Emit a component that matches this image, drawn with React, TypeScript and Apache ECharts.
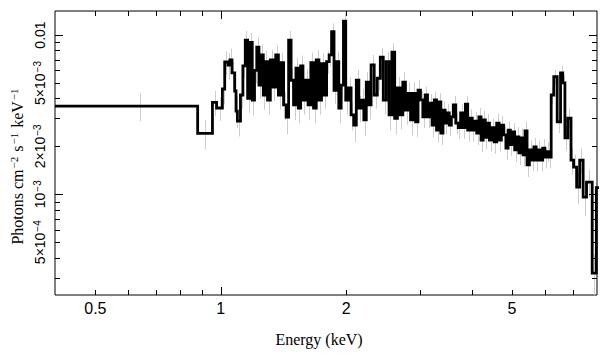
import React, { useEffect, useRef } from 'react';
import * as echarts from 'echarts';

// Bin lower edges (keV)
const binLo = [
  0.4, 0.88, 0.955, 0.977, 1.009, 1.022, 1.041, 1.052, 1.064, 1.08, 1.088, 1.096,
  1.115, 1.13, 1.145, 1.16, 1.175, 1.19, 1.205, 1.22, 1.235, 1.25, 1.265, 1.28,
  1.295, 1.315, 1.335, 1.355, 1.375, 1.395, 1.415, 1.435, 1.455, 1.475, 1.495, 1.515, 1.535, 1.555, 1.575,
  1.595, 1.62, 1.645, 1.67, 1.695, 1.72, 1.745, 1.77, 1.795, 1.82, 1.845, 1.87, 1.895, 1.92, 1.945, 1.97,
  1.995, 2.025, 2.055, 2.085, 2.115, 2.145, 2.175, 2.205, 2.235, 2.265,
  2.295, 2.335, 2.375, 2.415, 2.455, 2.495, 2.535, 2.575, 2.615, 2.655, 2.695, 2.735, 2.775, 2.815, 2.855, 2.895, 2.935, 2.975,
  3.015, 3.055, 3.095, 3.135, 3.175, 3.215, 3.255, 3.295, 3.335, 3.375, 3.415, 3.455, 3.495, 3.535, 3.575,
  3.615, 3.665, 3.715, 3.765, 3.815, 3.865, 3.915, 3.965, 4.015, 4.065, 4.115, 4.165, 4.215, 4.265, 4.315, 4.365,
  4.415, 4.475, 4.535, 4.595, 4.655, 4.715, 4.775, 4.835, 4.895, 4.955, 5.015, 5.075, 5.135, 5.195, 5.255, 5.315, 5.375,
  5.435, 5.505, 5.575, 5.645, 5.715, 5.785, 5.855, 5.925, 5.995, 6.065, 6.135,
  6.21, 6.3, 6.42, 6.54, 6.62, 6.7, 6.81, 6.93, 7.03, 7.15, 7.27, 7.41, 7.55, 7.79, 7.97,
];
const lastEdge = 8.3;

// Flux per bin (photons cm^-2 s^-1 keV^-1)
const flux = [
  0.00358, 0.00241, 0.00377, 0.00348, 0.00458, 0.00677, 0.00648, 0.00697, 0.00578, 0.00445, 0.00333, 0.00288,
  0.0042, 0.0064, 0.0093, 0.004, 0.009, 0.0039, 0.006, 0.0084, 0.00485, 0.0075, 0.0042, 0.0068,
  0.0039, 0.00697, 0.0047, 0.0075, 0.0042, 0.0067, 0.00364, 0.00305, 0.0093, 0.0052, 0.00364, 0.0062, 0.00348, 0.0064, 0.0039,
  0.0052, 0.00364, 0.0067, 0.00348, 0.00697, 0.0039, 0.0066, 0.0042, 0.0068, 0.0075, 0.0105, 0.0045, 0.0068, 0.00348, 0.00485, 0.0122,
  0.0039, 0.00465, 0.00315, 0.00272, 0.0052, 0.00348, 0.0039, 0.00293, 0.00505, 0.00364,
  0.0065, 0.0042, 0.00535, 0.00725, 0.0039, 0.0068, 0.00315, 0.0078, 0.003, 0.00465, 0.00315, 0.00505, 0.00338, 0.0043, 0.00293, 0.0043, 0.00285, 0.0045,
  0.00391, 0.00306, 0.0042, 0.00306, 0.00374, 0.00272, 0.00391, 0.00253, 0.0038, 0.00242, 0.00338, 0.0028, 0.00324, 0.00272, 0.00306,
  0.00364, 0.0028, 0.00262, 0.00324, 0.00262, 0.00368, 0.00253, 0.003, 0.00253, 0.00288, 0.00242, 0.00306, 0.00219, 0.00293, 0.00228, 0.0028,
  0.00219, 0.00262, 0.00213, 0.0028, 0.00219, 0.00272, 0.00236, 0.00195, 0.00253, 0.00205, 0.00246, 0.0019, 0.00229, 0.00182, 0.00226, 0.00177, 0.0025,
  0.00153, 0.0019, 0.00164, 0.00198, 0.00164, 0.0019, 0.00164, 0.00195, 0.00171, 0.00185, 0.00171,
  0.0042, 0.00548, 0.00285, 0.00578, 0.005, 0.00226, 0.003, 0.00164, 0.00148, 0.00111, 0.00164, 0.00096, 0.00119, 0.00032, 0.0011,
];

// Relative 1-sigma error per bin
const relErr = [
  0.2, 0.21, 0.18, 0.17, 0.2, 0.17, 0.19, 0.18, 0.18, 0.2, 0.22, 0.2,
  0.18, 0.16, 0.14, 0.19, 0.15, 0.2, 0.17, 0.15, 0.18, 0.16, 0.19, 0.17,
  0.19, 0.16, 0.18, 0.15, 0.19, 0.16, 0.2, 0.22, 0.14, 0.17, 0.2, 0.16, 0.2, 0.16, 0.19,
  0.17, 0.2, 0.16, 0.2, 0.15, 0.19, 0.16, 0.18, 0.16, 0.15, 0.13, 0.18, 0.16, 0.2, 0.18, 0.13,
  0.19, 0.17, 0.2, 0.22, 0.16, 0.19, 0.18, 0.21, 0.16, 0.19,
  0.15, 0.18, 0.16, 0.14, 0.19, 0.15, 0.2, 0.14, 0.21, 0.17, 0.19, 0.16, 0.19, 0.17, 0.2, 0.17, 0.2, 0.16,
  0.14, 0.15, 0.13, 0.15, 0.14, 0.16, 0.13, 0.16, 0.14, 0.16, 0.14, 0.15, 0.14, 0.15, 0.14,
  0.14, 0.15, 0.15, 0.14, 0.15, 0.13, 0.16, 0.14, 0.15, 0.14, 0.16, 0.14, 0.16, 0.14, 0.16, 0.14,
  0.15, 0.14, 0.16, 0.14, 0.15, 0.14, 0.15, 0.16, 0.14, 0.15, 0.14, 0.16, 0.15, 0.16, 0.14, 0.16, 0.14,
  0.16, 0.14, 0.15, 0.14, 0.15, 0.14, 0.15, 0.14, 0.15, 0.14, 0.15,
  0.12, 0.11, 0.15, 0.11, 0.12, 0.17, 0.15, 0.19, 0.2, 0.22, 0.18, 0.24, 0.2, 0.3, 0.2,
];

const xRange = [0.4, 8];
const yRange = [2.33e-4, 0.01415];

const xLabelValues = [0.5, 1, 2, 5];
const xLabelTexts = ['0.5', '1', '2', '5'];
const xMajorTicks = [1];
const xMinorTicks = [0.5, 0.6, 0.7, 0.8, 0.9, 2, 3, 4, 5, 6, 7];

const yLabelValues = [5e-4, 1e-3, 2e-3, 5e-3, 0.01];
const yLabelTexts = ['5×10{s|−4}', '10{s|−3}', '2×10{s|−3}', '5×10{s|−3}', '0.01'];
const yMajorTicks = [1e-3, 0.01];
const yMinorTicks = [3e-4, 4e-4, 5e-4, 6e-4, 7e-4, 8e-4, 9e-4, 2e-3, 3e-3, 4e-3, 5e-3, 6e-3, 7e-3, 8e-3, 9e-3];

const xTitle = 'Energy (keV)';
const yTitle = 'Photons cm{s|−2} s{s|−1} keV{s|−1}';

const SANS = '"Liberation Sans", Arial, Helvetica, sans-serif';
const SERIF = '"Liberation Serif", "Times New Roman", serif';

export default function App() {
  const ref = useRef<HTMLDivElement>(null);

  useEffect(() => {
    if (!ref.current) return;
    const chart = echarts.init(ref.current, null, { renderer: 'svg' });
    const n = Math.min(binLo.length, flux.length, relErr.length);

    const stepData: number[][] = [];
    for (let i = 0; i < n; i++) stepData.push([binLo[i], flux[i]]);
    stepData.push([lastEdge, flux[n - 1]]);

    const errData: number[][] = [];
    for (let i = 0; i < n; i++) {
      const hiEdge = i + 1 < n ? binLo[i + 1] : lastEdge;
      const c = (binLo[i] + hiEdge) / 2;
      if (c > xRange[1]) continue;
      const lo = Math.max(flux[i] * (1 - relErr[i]), yRange[0]);
      const hi = Math.min(flux[i] * (1 + relErr[i]), yRange[1]);
      errData.push([c, lo, hi]);
    }

    const tickData: number[][] = [];
    xMinorTicks.forEach((v) => tickData.push([v, yRange[0], 0]));
    xMajorTicks.forEach((v) => tickData.push([v, yRange[0], 1]));
    yMinorTicks.forEach((v) => tickData.push([xRange[0], v, 2]));
    yMajorTicks.forEach((v) => tickData.push([xRange[0], v, 3]));

    const labelData: number[][] = [];
    xLabelValues.forEach((v, i) => labelData.push([v, yRange[0], 0, i]));
    yLabelValues.forEach((v, i) => labelData.push([xRange[0], v, 1, i]));

    const center = { textAlign: 'center', textVerticalAlign: 'middle', align: 'center', verticalAlign: 'middle' };

    const option: any = {
      animation: false,
      backgroundColor: '#ffffff',
      grid: {
        left: 55, right: 12, top: 11, bottom: 62,
        show: true, borderColor: '#000', borderWidth: 1, backgroundColor: 'transparent',
      },
      xAxis: {
        type: 'log', logBase: 10, min: xRange[0], max: xRange[1],
        axisLine: { show: false }, axisTick: { show: false }, axisLabel: { show: false },
        splitLine: { show: false },
      },
      yAxis: {
        type: 'log', logBase: 10, min: yRange[0], max: yRange[1],
        axisLine: { show: false }, axisTick: { show: false }, axisLabel: { show: false },
        splitLine: { show: false },
      },
      graphic: [
        {
          type: 'text', x: 319, y: 339, silent: true,
          style: { text: xTitle, font: `16px ${SERIF}`, fill: '#000', ...center },
        },
        {
          type: 'text', x: 17, y: 166, rotation: Math.PI / 2, silent: true,
          style: {
            text: yTitle, font: `16px ${SERIF}`, fill: '#000', ...center,
            rich: {
              s: { fontSize: 11, fontFamily: SERIF, fill: '#000', verticalAlign: 'top', padding: [0, 1, 6, 1] },
            },
          },
        },
      ],
      series: [
        {
          type: 'custom', name: 'errors', z: 1, silent: true,
          data: errData,
          encode: { x: 0, y: 1 },
          renderItem: (params: any, api: any) => {
            const a = api.coord([api.value(0), api.value(1)]);
            const b = api.coord([api.value(0), api.value(2)]);
            const x = Math.round(a[0]) + 0.5;
            return {
              type: 'line',
              shape: { x1: x, y1: a[1], x2: x, y2: b[1] },
              style: { stroke: '#cdcdcd', lineWidth: 1 },
            };
          },
        },
        {
          type: 'line', name: 'spectrum', z: 2, silent: true,
          data: stepData, step: 'end', symbol: 'none', clip: true,
          lineStyle: { color: '#000', width: 2.8, join: 'miter' },
        },
        {
          type: 'custom', name: 'ticks', z: 3, silent: true,
          data: tickData,
          encode: { x: 0, y: 1 },
          renderItem: (params: any, api: any) => {
            const cs = params.coordSys;
            const kind = api.value(2);
            const st = { stroke: '#000', lineWidth: 1 };
            if (kind < 2) {
              const len = kind === 1 ? 8 : 5;
              const px = Math.round(api.coord([api.value(0), yRange[0]])[0]) + 0.5;
              const bottom = cs.y + cs.height;
              const top = cs.y;
              return {
                type: 'group',
                children: [
                  { type: 'line', shape: { x1: px, y1: bottom, x2: px, y2: bottom - len }, style: st },
                  { type: 'line', shape: { x1: px, y1: top, x2: px, y2: top + len }, style: st },
                ],
              };
            }
            const len = kind === 3 ? 8 : 5;
            const py = Math.round(api.coord([xRange[0], api.value(1)])[1]) + 0.5;
            const left = cs.x;
            const right = cs.x + cs.width;
            return {
              type: 'group',
              children: [
                { type: 'line', shape: { x1: left, y1: py, x2: left + len, y2: py }, style: st },
                { type: 'line', shape: { x1: right, y1: py, x2: right - len, y2: py }, style: st },
              ],
            };
          },
        },
        {
          type: 'custom', name: 'labels', z: 3, silent: true,
          data: labelData,
          encode: { x: 0, y: 1 },
          renderItem: (params: any, api: any) => {
            const cs = params.coordSys;
            const axis = api.value(2);
            const idx = api.value(3);
            if (axis === 0) {
              const p = api.coord([api.value(0), yRange[0]]);
              return {
                type: 'text', x: p[0], y: cs.y + cs.height + 13,
                style: { text: xLabelTexts[idx], font: `16px ${SANS}`, fill: '#000', ...center },
              };
            }
            const p = api.coord([xRange[0], api.value(1)]);
            return {
              type: 'text', x: cs.x - 15, y: p[1], rotation: Math.PI / 2,
              style: {
                text: yLabelTexts[idx], font: `14px ${SANS}`, fill: '#000', ...center,
                rich: {
                  s: { fontSize: 10, fontFamily: SANS, fill: '#000', verticalAlign: 'top', padding: [0, 0, 5, 1] },
                },
              },
            };
          },
        },
      ],
    };

    chart.setOption(option);
    return () => chart.dispose();
  }, []);

  return (
    <div
      ref={ref}
      style={{ position: 'fixed', left: 0, top: 0, width: 609, height: 357, background: '#fff' }}
    />
  );
}
